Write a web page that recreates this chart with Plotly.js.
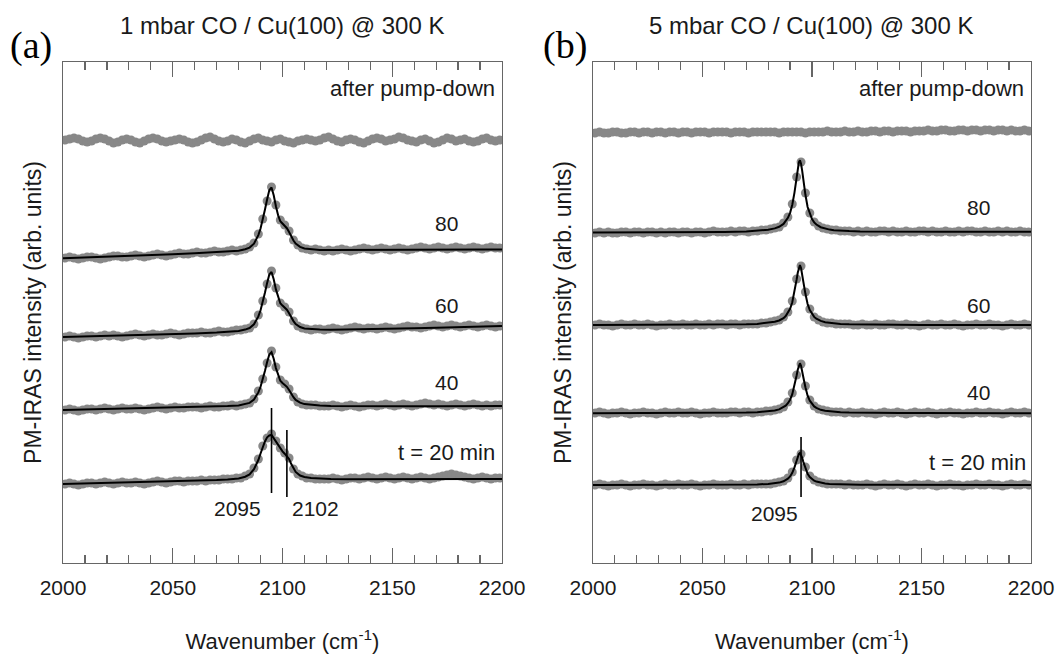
<!DOCTYPE html>
<html><head><meta charset="utf-8">
<script src="https://cdn.plot.ly/plotly-3.0.1.min.js"></script>
<style>html,body{margin:0;padding:0;background:#fff}#chart{width:1057px;height:658px}</style>
</head><body><div id="chart"></div>
<script>
// ---------- data ----------
const dataNu = [2001,2003,2005,2007,2009,2011,2013,2015,2017,2019,
2021,2023,2025,2027,2029,2031,2033,2035,2037,2039,
2041,2043,2045,2047,2049,2051,2053,2055,2057,2059,
2061,2063,2065,2067,2069,2071,2073,2075,2077,2079,
2081,2083,2085,2087,2089,2091,2093,2095,2097,2099,
2101,2103,2105,2107,2109,2111,2113,2115,2117,2119,
2121,2123,2125,2127,2129,2131,2133,2135,2137,2139,
2141,2143,2145,2147,2149,2151,2153,2155,2157,2159,
2161,2163,2165,2167,2169,2171,2173,2175,2177,2179,
2181,2183,2185,2187,2189,2191,2193,2195,2197,2199];

const fitNuA = [2000,2010,2020,2030,2040,2050,2060,2070,2075,2080,2083,2085,2087,2088,2089,2090,2091,2092,2093,2094,2095,2096,2097,2098,2099,2100,2101,2102,2103,2104,2105,2106,2108,2110,2113,2117,2122,2130,2140,2150,2160,2170,2180,2190,2200];
const fitNuB = [2000,2010,2020,2030,2040,2050,2060,2070,2075,2080,2083,2085,2087,2088,2089,2090,2091,2092,2093,2093.5,2094,2094.5,2095,2095.5,2096,2097,2098,2099,2100,2101,2102,2104,2106,2108,2110,2113,2117,2122,2130,2140,2150,2160,2170,2180,2190,2200];

// Panel (a): 1 mbar
const pumpA = [42.3,42.4,42.5,42.4,42.2,42.1,42.2,42.4,42.5,42.4,
42.2,42.0,42.1,42.3,42.4,42.3,42.1,42.0,42.2,42.4,
42.5,42.4,42.2,42.1,42.2,42.3,42.4,42.3,42.1,42.0,
42.1,42.3,42.5,42.6,42.4,42.2,42.1,42.2,42.4,42.3,
42.1,42.0,42.2,42.4,42.5,42.3,42.2,42.1,42.3,42.4,
42.2,42.1,42.0,42.2,42.3,42.4,42.3,42.2,42.3,42.5,
42.6,42.4,42.2,42.1,42.3,42.4,42.3,42.1,42.0,42.2,
42.4,42.5,42.4,42.2,42.3,42.4,42.6,42.5,42.3,42.2,
42.1,42.3,42.4,42.2,42.0,42.1,42.3,42.5,42.4,42.2,
42.3,42.4,42.2,42.1,42.2,42.4,42.5,42.3,42.2,42.3];
const d80a = [30.5,30.6,30.5,30.4,30.5,30.6,30.6,30.5,30.4,30.5,
30.6,30.7,30.7,30.6,30.6,30.7,30.8,30.7,30.6,30.7,
30.8,30.9,30.8,30.7,30.8,30.9,31.0,30.9,30.9,31.0,
31.1,31.0,31.0,31.1,31.2,31.1,31.1,31.2,31.3,31.2,
31.3,31.4,31.6,32.0,32.9,34.4,36.2,37.6,35.8,34.3,
33.8,33.2,32.3,31.8,31.5,31.4,31.3,31.4,31.3,31.2,
31.3,31.2,31.3,31.4,31.3,31.2,31.3,31.4,31.5,31.4,
31.3,31.4,31.5,31.4,31.3,31.4,31.5,31.4,31.3,31.4,
31.5,31.6,31.5,31.4,31.5,31.6,31.5,31.4,31.5,31.6,
31.5,31.4,31.5,31.6,31.5,31.4,31.5,31.6,31.5,31.5];
const d60a = [22.6,22.7,22.6,22.5,22.6,22.7,22.7,22.6,22.7,22.8,
22.7,22.8,22.7,22.6,22.7,22.8,22.9,22.8,22.7,22.8,
22.9,22.8,22.8,22.9,23.0,22.9,22.8,22.9,23.0,23.0,
23.0,23.1,23.0,23.0,23.1,23.2,23.1,23.1,23.2,23.3,
23.3,23.4,23.5,23.9,24.8,26.2,27.9,29.2,27.5,26.0,
25.6,25.1,24.2,23.7,23.5,23.4,23.3,23.4,23.4,23.3,
23.4,23.5,23.4,23.3,23.4,23.5,23.6,23.5,23.4,23.5,
23.5,23.4,23.5,23.6,23.5,23.4,23.5,23.6,23.7,23.6,
23.6,23.5,23.6,23.7,23.8,23.7,23.6,23.7,23.8,23.7,
23.6,23.7,23.8,23.7,23.6,23.7,23.8,23.7,23.6,23.7];
const d40a = [15.3,15.4,15.3,15.2,15.3,15.4,15.4,15.3,15.4,15.5,
15.4,15.3,15.4,15.5,15.4,15.4,15.5,15.4,15.3,15.4,
15.5,15.6,15.5,15.4,15.5,15.6,15.5,15.5,15.6,15.6,
15.6,15.5,15.6,15.7,15.6,15.6,15.7,15.7,15.8,15.7,
15.8,15.9,16.0,16.4,17.2,18.4,20.0,21.2,19.6,18.3,
17.9,17.4,16.6,16.1,15.9,15.8,15.8,15.8,15.7,15.7,
15.7,15.8,15.7,15.6,15.7,15.8,15.7,15.6,15.7,15.8,
15.8,15.7,15.8,15.9,15.8,15.7,15.8,15.9,15.8,15.7,
15.8,15.9,16.0,15.9,15.8,15.9,15.8,15.7,15.8,15.9,
15.8,15.7,15.8,15.9,15.8,15.7,15.8,15.7,15.8,15.8];
const d20a = [7.9,8.0,7.9,7.8,7.9,8.0,8.0,7.9,8.0,8.1,
8.0,7.9,8.0,8.1,8.0,8.0,8.1,8.0,7.9,8.0,
8.1,8.2,8.1,8.0,8.1,8.2,8.2,8.1,8.2,8.2,
8.2,8.3,8.2,8.3,8.3,8.3,8.4,8.4,8.4,8.5,
8.5,8.7,8.9,9.5,10.4,11.7,12.5,12.9,12.2,11.5,
11.0,10.5,9.4,8.9,8.7,8.5,8.5,8.4,8.4,8.4,
8.4,8.5,8.4,8.3,8.4,8.5,8.5,8.4,8.5,8.6,
8.5,8.4,8.5,8.6,8.5,8.4,8.5,8.6,8.5,8.4,
8.5,8.6,8.5,8.4,8.5,8.6,8.7,8.8,8.9,8.8,
8.7,8.6,8.5,8.4,8.5,8.6,8.5,8.4,8.5,8.5];
const fit80a = [30.47,30.54,30.61,30.67,30.77,30.88,30.98,31.08,31.13,31.23,31.37,31.54,31.93,32.32,32.79,33.44,34.28,35.33,36.37,37.29,37.55,36.77,35.68,34.77,34.19,33.93,33.74,33.48,33.10,32.64,32.25,31.94,31.61,31.46,31.37,31.31,31.29,31.29,31.28,31.27,31.28,31.31,31.32,31.34,31.35];
const fit60a = [22.60,22.65,22.69,22.74,22.80,22.86,22.95,23.05,23.11,23.21,23.34,23.50,23.87,24.24,24.66,25.27,26.07,27.03,28.01,28.86,29.10,28.38,27.36,26.52,25.97,25.74,25.56,25.33,24.97,24.55,24.19,23.90,23.60,23.46,23.39,23.35,23.33,23.35,23.39,23.43,23.48,23.53,23.59,23.64,23.70];
const fit40a = [15.30,15.35,15.40,15.43,15.47,15.53,15.57,15.64,15.69,15.75,15.87,16.01,16.34,16.67,17.06,17.62,18.33,19.21,20.09,20.86,21.08,20.42,19.49,18.72,18.22,18.00,17.84,17.62,17.30,16.91,16.58,16.31,16.03,15.89,15.81,15.75,15.71,15.69,15.68,15.68,15.68,15.68,15.70,15.70,15.70];
const fit20a = [7.90,7.95,8.01,8.05,8.09,8.15,8.20,8.29,8.36,8.46,8.63,8.86,9.38,9.79,10.30,10.95,11.59,12.15,12.57,12.75,12.80,12.48,12.07,11.71,11.43,11.16,10.93,10.70,10.39,9.89,9.43,9.11,8.75,8.60,8.49,8.43,8.40,8.38,8.37,8.37,8.37,8.37,8.39,8.39,8.40];

// Panel (b): 5 mbar
const pumpB = [43.0,43.1,43.0,43.0,43.1,43.1,43.0,43.0,43.1,43.1,
43.0,43.1,43.1,43.0,43.1,43.1,43.0,43.1,43.1,43.0,
43.1,43.1,43.0,43.1,43.1,43.1,43.0,43.1,43.1,43.1,
43.1,43.0,43.1,43.1,43.1,43.0,43.1,43.1,43.1,43.1,
43.1,43.1,43.0,43.1,43.1,43.1,43.1,43.1,43.0,43.1,
43.1,43.1,43.1,43.2,43.1,43.1,43.1,43.2,43.1,43.1,
43.2,43.1,43.1,43.2,43.2,43.1,43.2,43.2,43.1,43.2,
43.2,43.2,43.1,43.2,43.2,43.2,43.3,43.2,43.2,43.3,
43.3,43.2,43.2,43.3,43.3,43.2,43.3,43.3,43.2,43.3,
43.3,43.2,43.3,43.3,43.2,43.3,43.2,43.2,43.3,43.2];
const d80b = [33.0,33.1,33.0,33.1,33.0,33.0,33.1,33.1,33.0,33.1,
33.1,33.0,33.1,33.1,33.0,33.1,33.0,33.1,33.1,33.0,
33.1,33.1,33.0,33.1,33.1,33.0,33.1,33.2,33.1,33.1,
33.1,33.2,33.1,33.2,33.2,33.1,33.2,33.2,33.3,33.3,
33.4,33.5,33.6,34.0,34.6,35.9,38.6,40.1,37.0,35.0,
34.1,33.7,33.5,33.4,33.3,33.3,33.2,33.2,33.2,33.1,
33.2,33.1,33.2,33.1,33.1,33.2,33.2,33.1,33.2,33.1,
33.1,33.2,33.1,33.1,33.2,33.2,33.1,33.2,33.1,33.1,
33.2,33.1,33.1,33.2,33.1,33.2,33.2,33.1,33.1,33.2,
33.1,33.1,33.2,33.1,33.2,33.1,33.1,33.2,33.1,33.1];
const d60b = [23.8,23.9,23.8,23.8,23.7,23.8,23.9,23.8,23.8,23.9,
23.8,23.8,23.9,23.8,23.7,23.8,23.8,23.9,23.8,23.8,
23.9,23.8,23.8,23.9,23.8,23.8,23.9,23.8,23.9,23.9,
23.8,23.9,23.9,23.8,23.9,23.9,23.9,23.9,24.0,24.0,
24.1,24.2,24.3,24.6,25.1,26.2,28.4,29.7,27.1,25.4,
24.6,24.3,24.1,24.0,24.0,23.9,23.9,23.9,23.9,23.8,
23.8,23.9,23.8,23.8,23.9,23.8,23.8,23.9,23.9,23.8,
23.8,23.9,23.8,23.8,23.7,23.8,23.9,23.8,23.8,23.9,
23.8,23.8,23.9,23.8,23.7,23.8,23.8,23.9,23.8,23.8,
23.9,23.8,23.8,23.7,23.8,23.9,23.8,23.8,23.9,23.8];
const d40b = [15.0,15.1,15.0,14.9,15.0,15.0,15.1,15.0,14.9,15.0,
15.0,15.1,15.0,15.0,14.9,15.0,15.1,15.0,15.0,15.1,
15.0,15.0,15.1,15.0,14.9,15.0,15.0,15.1,15.0,15.0,
15.0,15.1,15.1,15.0,15.1,15.1,15.0,15.1,15.1,15.2,
15.2,15.3,15.4,15.6,16.1,17.0,18.8,19.9,17.7,16.3,
15.7,15.4,15.3,15.2,15.1,15.1,15.1,15.0,15.1,15.0,
15.0,15.1,15.0,15.0,14.9,15.0,15.1,15.0,15.0,15.1,
15.0,14.9,15.0,15.1,15.0,15.0,15.1,15.0,14.9,15.0,
15.0,15.1,15.0,15.0,14.9,15.0,15.0,15.1,15.0,15.0,
15.1,15.0,15.0,14.9,15.0,15.1,15.0,15.0,15.1,15.0];
const d20b = [7.8,7.9,7.8,7.7,7.8,7.8,7.9,7.8,7.7,7.8,
7.8,7.9,7.8,7.8,7.7,7.8,7.9,7.8,7.8,7.9,
7.8,7.8,7.9,7.8,7.7,7.8,7.8,7.9,7.8,7.8,
7.8,7.9,7.8,7.8,7.9,7.8,7.9,7.9,7.9,7.9,
7.9,8.0,8.1,8.2,8.5,9.1,10.3,10.9,9.6,8.7,
8.3,8.1,8.0,7.9,7.9,7.9,7.9,7.8,7.9,7.8,
7.8,7.8,7.9,7.8,7.7,7.8,7.9,7.8,7.8,7.9,
7.8,7.7,7.8,7.9,7.8,7.8,7.9,7.8,7.7,7.8,
7.8,7.9,7.8,7.8,7.7,7.8,7.8,7.9,7.8,7.8,
7.9,7.8,7.8,7.7,7.8,7.9,7.8,7.8,7.9,7.8];
const fit80b = [33.06,33.06,33.07,33.07,33.08,33.09,33.11,33.16,33.21,33.32,33.46,33.62,33.91,34.16,34.52,35.02,35.82,37.04,38.55,39.34,40.06,40.28,39.92,39.27,38.34,36.82,35.60,34.88,34.39,34.06,33.85,33.58,33.43,33.34,33.28,33.23,33.19,33.16,33.14,33.13,33.12,33.12,33.12,33.12,33.12,33.12];
const fit60b = [23.81,23.81,23.81,23.81,23.81,23.82,23.84,23.87,23.91,24.00,24.12,24.25,24.49,24.70,25.00,25.42,26.08,27.10,28.36,29.02,29.62,29.80,29.50,28.96,28.18,26.92,25.90,25.30,24.88,24.61,24.43,24.21,24.08,24.01,23.96,23.91,23.87,23.85,23.83,23.82,23.81,23.81,23.80,23.80,23.80,23.80];
const fit40b = [14.98,14.98,14.99,14.99,14.99,15.00,15.01,15.04,15.07,15.15,15.25,15.36,15.56,15.73,15.98,16.33,16.88,17.73,18.78,19.33,19.83,19.98,19.73,19.28,18.63,17.58,16.73,16.23,15.88,15.66,15.51,15.32,15.22,15.16,15.12,15.07,15.04,15.02,15.01,15.00,14.99,14.99,14.98,14.98,14.98,14.98];
const fit20b = [7.80,7.80,7.80,7.81,7.81,7.81,7.82,7.84,7.86,7.91,7.97,8.04,8.17,8.28,8.44,8.66,9.02,9.56,10.23,10.58,10.90,11.00,10.84,10.55,10.14,9.46,8.92,8.60,8.38,8.23,8.14,8.02,7.95,7.91,7.89,7.86,7.84,7.83,7.82,7.81,7.81,7.80,7.80,7.80,7.80,7.80];

// tick labels and texts
const xTickVals = [2000,2050,2100,2150,2200];
const xTickText = ['2000','2050','2100','2150','2200'];
const xMinorVals = [2010,2020,2030,2040,2060,2070,2080,2090,2110,2120,2130,2140,2160,2170,2180,2190];
const panelTitles = ['1 mbar CO / Cu(100) @ 300 K','5 mbar CO / Cu(100) @ 300 K'];
const panelLetters = ['(a)','(b)'];
const seriesLabels = ['t = 20 min','40','60','80','after pump-down'];
const peakLinesA = [2095, 2102];
const peakLinesB = [2095];
const peakTextA = ['2095','2102'];
const peakTextB = ['2095'];
const xTitle = 'Wavenumber (cm<sup>-1</sup>)';
const yTitle = 'PM-IRAS intensity (arb. units)';

// ---------- drawing ----------
const SANS = 'Liberation Sans, Arial, Helvetica, sans-serif';
const SERIF = 'Liberation Serif, Times New Roman, serif';
const GRAY = '#888888';
const FRAME = '#666666';
const TXT = '#1a1a1a';

const traces = [];
function addSpectrum(data, fit, fitNu, xa, ya){
  traces.push({type:'scatter', mode:'markers', x:dataNu, y:data, xaxis:xa, yaxis:ya,
    marker:{color:GRAY, size:9, line:{width:0}}, hoverinfo:'skip'});
  if (fit) traces.push({type:'scatter', mode:'lines', x:fitNu, y:fit, xaxis:xa, yaxis:ya,
    line:{color:'#000', width:2}, hoverinfo:'skip'});
}
addSpectrum(pumpA, null, fitNuA, 'x', 'y');
addSpectrum(d80a, fit80a, fitNuA, 'x', 'y');
addSpectrum(d60a, fit60a, fitNuA, 'x', 'y');
addSpectrum(d40a, fit40a, fitNuA, 'x', 'y');
addSpectrum(d20a, fit20a, fitNuA, 'x', 'y');
addSpectrum(pumpB, null, fitNuB, 'x2', 'y2');
addSpectrum(d80b, fit80b, fitNuB, 'x2', 'y2');
addSpectrum(d60b, fit60b, fitNuB, 'x2', 'y2');
addSpectrum(d40b, fit40b, fitNuB, 'x2', 'y2');
addSpectrum(d20b, fit20b, fitNuB, 'x2', 'y2');

function xAxis(domain, anchor){
  return {domain:domain, anchor:anchor, range:[2000,2200], tickmode:'array',
    tickvals:xTickVals, ticktext:xTickText, ticks:'inside', ticklen:15, tickwidth:1.2, tickcolor:FRAME,
    minor:{tickmode:'array', tickvals:xMinorVals, ticks:'inside', ticklen:8, tickwidth:1.2, tickcolor:FRAME},
    showline:true, linecolor:FRAME, linewidth:1.3, mirror:'ticks', showgrid:false, zeroline:false,
    tickfont:{family:SANS, size:21, color:TXT}, ticklabelstandoff:5,
    title:{text:xTitle, font:{family:SANS, size:22, color:TXT}, standoff:36}};
}
function yAxis(anchor){
  return {domain:[0,1], anchor:anchor, range:[0,50.1], showticklabels:false, ticks:'',
    showline:true, linecolor:FRAME, linewidth:1.3, mirror:true, showgrid:false, zeroline:false,
    title:{text:yTitle, font:{family:SANS, size:23, color:TXT}, standoff:13}};
}

const annotations = [];
function lab(text, x, y, xa, ya, xanchor, size){
  annotations.push({text:text, x:x, y:y, xref:xa, yref:ya, xanchor:xanchor, yanchor:'middle',
    showarrow:false, font:{family:SANS, size:size, color:TXT}});
}
// panel (a) labels
lab(seriesLabels[4], 2197.5, 47.5, 'x', 'y', 'right', 22);
lab(seriesLabels[3], 2181, 33.95, 'x', 'y', 'right', 21);
lab(seriesLabels[2], 2181, 25.8, 'x', 'y', 'right', 21);
lab(seriesLabels[1], 2181, 18.1, 'x', 'y', 'right', 21);
lab(seriesLabels[0], 2197.7, 11.1, 'x', 'y', 'right', 22);
lab(peakTextA[0], 2091.3, 5.5, 'x', 'y', 'right', 21);
lab(peakTextA[1], 2103.2, 5.5, 'x', 'y', 'left', 21);
// panel (b) labels
lab(seriesLabels[4], 2197.5, 47.5, 'x2', 'y2', 'right', 22);
lab(seriesLabels[3], 2182.2, 35.6, 'x2', 'y2', 'right', 21);
lab(seriesLabels[2], 2182.2, 25.8, 'x2', 'y2', 'right', 21);
lab(seriesLabels[1], 2182.2, 17.05, 'x2', 'y2', 'right', 21);
lab(seriesLabels[0], 2198.6, 10.1, 'x2', 'y2', 'right', 22);
lab(peakTextB[0], 2083.1, 4.95, 'x2', 'y2', 'center', 21);
// panel titles and letters
const xCentersPaper = [0.2268, 0.7732];
panelTitles.forEach((t,i)=>annotations.push({text:t, x:xCentersPaper[i], y:1.0, xref:'paper', yref:'paper',
  xanchor:'center', yanchor:'middle', yshift:37, showarrow:false, font:{family:SANS, size:24, color:TXT}}));
const letterX = [-32, 502];
panelLetters.forEach((t,i)=>annotations.push({text:t, x:0, y:1.0, xref:'paper', yref:'paper', xshift:letterX[i],
  xanchor:'center', yanchor:'middle', yshift:17, showarrow:false, font:{family:SERIF, size:38, color:'#000'}}));

const shapes = [];
peakLinesA.forEach((p,i)=>shapes.push({type:'line', xref:'x', yref:'y', x0:p, x1:p,
  y0: i===0 ? 7.0 : 6.6, y1: i===0 ? 15.5 : 13.3, line:{color:'#000', width:1.6}}));
peakLinesB.forEach(p=>shapes.push({type:'line', xref:'x2', yref:'y2', x0:p, x1:p,
  y0:6.6, y1:12.6, line:{color:'#000', width:1.6}}));

const layout = {
  width:1057, height:658, margin:{l:63, r:26, t:62, b:95}, showlegend:false,
  paper_bgcolor:'#fff', plot_bgcolor:'#fff', hovermode:false,
  xaxis: xAxis([0, 0.4535], 'y'),
  yaxis: yAxis('x'),
  xaxis2: xAxis([0.5475, 1], 'y2'),
  yaxis2: yAxis('x2'),
  annotations: annotations, shapes: shapes
};
Plotly.newPlot('chart', traces, layout, {displayModeBar:false, staticPlot:true});
</script></body></html>
